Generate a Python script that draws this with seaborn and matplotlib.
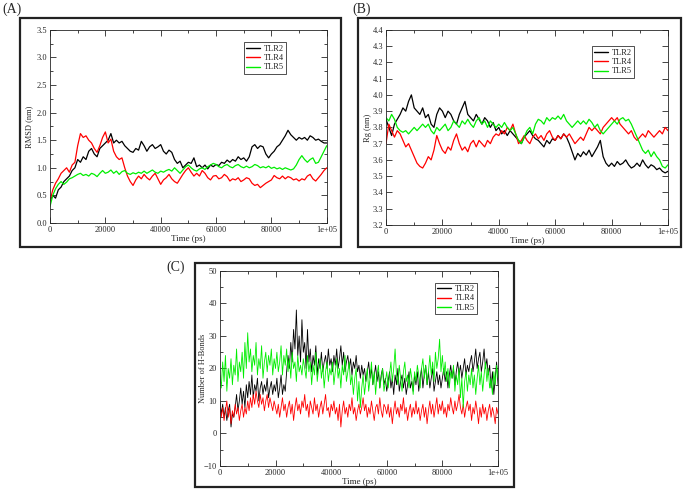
import numpy as np
import pandas as pd
import matplotlib
matplotlib.use('Agg')
import matplotlib.pyplot as plt
import seaborn as sns
from matplotlib.patches import Rectangle
from matplotlib.ticker import MultipleLocator

# time axes (ps)
time_ab = list(range(0, 100001, 1000))
time_c = list(range(0, 100001, 500))

# (A) RMSD (nm)
rmsd_tlr2 = [0.40, 0.50, 0.45, 0.60, 0.65, 0.75, 0.80, 0.85, 0.95, 1.00,
             1.15, 1.10, 1.20, 1.15, 1.30, 1.35, 1.25, 1.20, 1.35, 1.40,
             1.45, 1.50, 1.62, 1.45, 1.50, 1.45, 1.48, 1.40, 1.35, 1.30,
             1.28, 1.35, 1.32, 1.48, 1.40, 1.30, 1.38, 1.42, 1.35, 1.38,
             1.42, 1.30, 1.25, 1.32, 1.28, 1.15, 1.08, 1.12, 1.00, 1.05,
             1.10, 1.08, 1.18, 1.02, 1.05, 1.00, 1.05, 0.98, 1.05, 1.02,
             1.06, 1.04, 1.10, 1.08, 1.14, 1.10, 1.15, 1.12, 1.20, 1.15,
             1.18, 1.12, 1.20, 1.38, 1.42, 1.35, 1.40, 1.38, 1.25, 1.18,
             1.25, 1.30, 1.38, 1.42, 1.50, 1.58, 1.68, 1.60, 1.55, 1.50,
             1.55, 1.52, 1.55, 1.50, 1.58, 1.55, 1.50, 1.52, 1.48, 1.45, 1.45]
rmsd_tlr4 = [0.40, 0.60, 0.72, 0.80, 0.90, 0.95, 1.00, 0.92, 1.05, 1.10,
             1.40, 1.62, 1.55, 1.58, 1.50, 1.45, 1.35, 1.28, 1.40, 1.55,
             1.65, 1.45, 1.52, 1.30, 1.20, 1.15, 1.18, 1.00, 0.85, 0.75,
             0.68, 0.78, 0.85, 0.80, 0.88, 0.82, 0.78, 0.85, 0.90, 0.80,
             0.70, 0.78, 0.82, 0.88, 0.80, 0.75, 0.72, 0.80, 0.88, 0.95,
             1.00, 0.92, 0.85, 0.90, 0.85, 0.95, 0.90, 0.82, 0.78, 0.85,
             0.86, 0.80, 0.82, 0.88, 0.84, 0.76, 0.80, 0.78, 0.82, 0.75,
             0.78, 0.82, 0.80, 0.72, 0.68, 0.70, 0.64, 0.68, 0.72, 0.75,
             0.78, 0.86, 0.82, 0.80, 0.85, 0.80, 0.84, 0.82, 0.78, 0.80,
             0.76, 0.80, 0.78, 0.85, 0.88, 0.80, 0.76, 0.82, 0.88, 0.95, 1.00]
rmsd_tlr5 = [0.30, 0.50, 0.62, 0.70, 0.75, 0.70, 0.74, 0.80, 0.82, 0.85,
             0.88, 0.90, 0.86, 0.88, 0.85, 0.90, 0.88, 0.84, 0.90, 0.95,
             0.90, 0.92, 0.96, 0.90, 0.94, 0.88, 0.93, 0.95, 0.90, 0.88,
             0.91, 0.89, 0.92, 0.90, 0.94, 0.90, 0.93, 0.96, 0.92, 0.90,
             0.94, 0.92, 0.95, 0.97, 0.94, 1.00, 0.95, 0.90, 0.96, 1.02,
             1.05, 1.00, 0.96, 0.94, 0.98, 1.00, 0.97, 1.02, 1.05, 1.08,
             1.06, 1.02, 1.00, 1.04, 1.06, 1.02, 1.00, 1.04, 1.06, 1.02,
             1.00, 1.03, 1.00, 1.02, 1.06, 1.04, 1.00, 1.02, 1.00, 1.03,
             0.99, 1.01, 0.98, 1.00, 0.97, 1.00, 0.98, 0.96, 0.98, 1.05,
             1.15, 1.22, 1.15, 1.10, 1.15, 1.18, 1.08, 1.10, 1.20, 1.30, 1.40]

# (B) Rg (nm)
rg_tlr2 = [3.85, 3.80, 3.75, 3.82, 3.85, 3.88, 3.92, 3.90, 3.96, 4.00,
           3.92, 3.90, 3.88, 3.92, 3.86, 3.88, 3.82, 3.80, 3.88, 3.92,
           3.90, 3.86, 3.90, 3.88, 3.84, 3.82, 3.88, 3.92, 3.96, 3.88,
           3.86, 3.84, 3.88, 3.85, 3.82, 3.86, 3.84, 3.80, 3.83, 3.78,
           3.80, 3.76, 3.78, 3.75, 3.78, 3.76, 3.74, 3.72, 3.70, 3.74,
           3.76, 3.78, 3.75, 3.73, 3.72, 3.70, 3.68, 3.72, 3.70, 3.73,
           3.72, 3.75, 3.73, 3.76, 3.74, 3.70, 3.65, 3.60, 3.64, 3.62,
           3.65, 3.63, 3.66, 3.62, 3.65, 3.68, 3.72, 3.62, 3.58, 3.56,
           3.58, 3.56, 3.59, 3.57, 3.58, 3.60, 3.57, 3.55, 3.56, 3.58,
           3.56, 3.60, 3.57, 3.55, 3.57, 3.56, 3.54, 3.55, 3.53, 3.52, 3.53]
rg_tlr4 = [3.70, 3.82, 3.78, 3.74, 3.78, 3.76, 3.72, 3.68, 3.70, 3.66,
           3.62, 3.58, 3.56, 3.55, 3.58, 3.62, 3.60, 3.66, 3.75, 3.70,
           3.66, 3.64, 3.68, 3.66, 3.72, 3.76, 3.70, 3.66, 3.68, 3.65,
           3.70, 3.72, 3.68, 3.72, 3.70, 3.68, 3.72, 3.70, 3.74, 3.76,
           3.75, 3.78, 3.76, 3.80, 3.78, 3.82, 3.76, 3.70, 3.72, 3.75,
           3.72, 3.70, 3.74, 3.76, 3.73, 3.75, 3.72, 3.76, 3.78, 3.74,
           3.72, 3.75, 3.73, 3.76, 3.74, 3.76, 3.73, 3.70, 3.72, 3.74,
           3.72, 3.76, 3.80, 3.78, 3.80, 3.78, 3.76, 3.80, 3.82, 3.84,
           3.86, 3.84, 3.86, 3.82, 3.80, 3.78, 3.76, 3.78, 3.74, 3.72,
           3.74, 3.76, 3.74, 3.78, 3.76, 3.74, 3.76, 3.78, 3.76, 3.80, 3.78]
rg_tlr5 = [3.86, 3.84, 3.88, 3.85, 3.80, 3.78, 3.77, 3.78, 3.76, 3.78,
           3.80, 3.78, 3.80, 3.82, 3.80, 3.82, 3.78, 3.76, 3.80, 3.78,
           3.80, 3.82, 3.78, 3.80, 3.84, 3.82, 3.80, 3.84, 3.82, 3.85,
           3.82, 3.80, 3.84, 3.86, 3.82, 3.84, 3.80, 3.84, 3.82, 3.80,
           3.82, 3.80, 3.83, 3.80, 3.78, 3.80, 3.76, 3.72, 3.70, 3.74,
           3.78, 3.80, 3.76, 3.82, 3.85, 3.84, 3.82, 3.86, 3.84, 3.86,
           3.85, 3.87, 3.85, 3.88, 3.84, 3.82, 3.80, 3.82, 3.84, 3.82,
           3.84, 3.82, 3.85, 3.83, 3.80, 3.82, 3.78, 3.76, 3.78, 3.80,
           3.82, 3.84, 3.82, 3.85, 3.86, 3.84, 3.85, 3.82, 3.78, 3.74,
           3.70, 3.66, 3.64, 3.66, 3.62, 3.65, 3.62, 3.60, 3.56, 3.55, 3.57]

# (C) number of H-bonds
hb_tlr2 = [10, 6, 9, 5, 8, 4, 7, 9, 2, 6, 5, 8, 12, 7, 10, 14, 9, 13, 8, 15, 11,
           16, 12, 18, 11, 15, 13, 17, 10, 14, 16, 12, 15, 13, 17, 11, 14, 16, 12, 15, 13,
           17, 11, 14, 18, 12, 15, 13, 19, 24, 20, 28, 22, 32, 26, 38, 24, 30, 22, 35, 25,
           28, 20, 32, 22, 26, 19, 24, 21, 27, 18, 23, 20, 25, 19, 22, 24, 20, 26, 21, 23,
           19, 24, 21, 26, 20, 23, 27, 21, 25, 19, 22, 24, 20, 23, 18, 22, 20, 24, 19, 21,
           17, 21, 18, 20, 16, 19, 22, 17, 20, 15, 18, 21, 16, 19, 14, 18, 20, 15, 17, 13,
           16, 19, 14, 17, 12, 18, 15, 20, 13, 16, 18, 14, 17, 12, 15, 19, 14, 16, 13, 18,
           15, 19, 13, 17, 20, 14, 18, 21, 15, 19, 14, 17, 20, 13, 16, 19, 15, 18, 14, 17,
           20, 16, 19, 14, 18, 21, 17, 20, 15, 19, 22, 18, 21, 17, 20, 23, 18, 21, 19, 22,
           24, 19, 22, 26, 20, 23, 25, 19, 22, 26, 20, 23, 18, 21, 14, 19, 12, 17, 22, 15]
hb_tlr4 = [9, 5, 8, 4, 7, 10, 5, 8, 3, 7, 5, 9, 6, 8, 4, 7, 9, 5, 8, 6, 10,
           7, 11, 8, 12, 9, 13, 10, 8, 12, 9, 11, 7, 10, 12, 8, 11, 9, 7, 10, 8,
           6, 9, 5, 8, 11, 7, 9, 5, 8, 10, 6, 9, 4, 8, 11, 7, 9, 6, 10, 8,
           12, 7, 9, 5, 10, 8, 6, 11, 7, 9, 5, 8, 10, 6, 9, 12, 7, 8, 5, 9,
           7, 10, 6, 8, 4, 9, 2, 7, 10, 6, 8, 5, 9, 7, 11, 6, 8, 4, 7, 9,
           6, 8, 11, 7, 9, 5, 8, 6, 10, 7, 4, 8, 9, 6, 11, 7, 5, 9, 8, 6,
           9, 5, 8, 3, 7, 10, 6, 8, 5, 9, 7, 11, 6, 8, 4, 7, 9, 5, 8, 6,
           10, 6, 8, 4, 7, 9, 5, 8, 3, 7, 10, 6, 9, 5, 8, 11, 6, 9, 7, 10,
           6, 8, 5, 9, 7, 11, 8, 6, 10, 7, 9, 12, 8, 6, 9, 5, 8, 10, 7, 9,
           4, 8, 6, 10, 7, 3, 8, 5, 9, 6, 8, 4, 7, 9, 5, 8, 6, 3, 8, 6]
hb_tlr5 = [18, 14, 22, 16, 24, 13, 20, 17, 23, 15, 21, 18, 26, 16, 22, 19, 25, 17, 28, 20, 31,
           22, 26, 19, 24, 21, 28, 18, 23, 20, 27, 17, 22, 25, 19, 24, 21, 26, 18, 23, 20,
           25, 19, 22, 27, 18, 24, 21, 26, 19, 23, 17, 25, 20, 22, 16, 24, 19, 21, 18, 23,
           20, 17, 24, 19, 22, 15, 21, 18, 25, 16, 20, 23, 17, 21, 14, 19, 22, 16, 20, 18,
           22, 15, 19, 23, 17, 20, 14, 21, 18, 24, 16, 19, 22, 15, 18, 12, 17, 20, 10, 16,
           8, 14, 18, 12, 16, 20, 13, 17, 22, 15, 19, 12, 18, 21, 14, 17, 20, 13, 16, 19,
           14, 18, 22, 16, 20, 26, 18, 15, 21, 17, 13, 19, 22, 16, 18, 14, 20, 17, 12, 19,
           16, 21, 18, 14, 20, 23, 17, 21, 15, 19, 24, 18, 22, 16, 25, 20, 23, 29, 19, 24,
           18, 22, 16, 20, 14, 19, 17, 21, 13, 18, 15, 20, 11, 17, 8, 16, 19, 13, 18, 15,
           20, 14, 18, 12, 17, 21, 15, 19, 13, 18, 22, 16, 20, 14, 17, 12, 19, 15, 21, 17]

xtick_vals = [0, 20000, 40000, 60000, 80000, 100000]
xtick_labels = ['0', '20000', '40000', '60000', '80000', '1e+05']
colors = {'TLR2': 'black', 'TLR4': 'red', 'TLR5': '#00ee00'}

sns.set_style('ticks')
plt.rcParams['font.family'] = ['Liberation Serif', 'DejaVu Serif']


def long_df(t, s2, s4, s5):
    parts = []
    for name, vals in [('TLR2', s2), ('TLR4', s4), ('TLR5', s5)]:
        parts.append(pd.DataFrame({'Time': t, 'Value': vals, 'Receptor': name}))
    return pd.concat(parts, ignore_index=True)


def style_axis(ax, ylim, ymajor, yminor, ylabel, ylabel_x, leg_anchor):
    ax.set_xlim(0, 100000)
    ax.set_ylim(*ylim)
    ax.set_xticks(xtick_vals)
    ax.set_xticklabels(xtick_labels)
    ax.xaxis.set_minor_locator(MultipleLocator(10000))
    ax.yaxis.set_major_locator(MultipleLocator(ymajor))
    if yminor:
        ax.yaxis.set_minor_locator(MultipleLocator(yminor))
    ax.tick_params(which='both', direction='in', top=True, right=True,
                   labelsize=6, pad=2, width=0.6)
    ax.tick_params(which='major', length=4)
    ax.tick_params(which='minor', length=2)
    for sp in ax.spines.values():
        sp.set_linewidth(0.6)
    ax.set_xlabel('Time (ps)', fontsize=6.5, labelpad=1)
    ax.set_ylabel(ylabel, fontsize=6)
    ax.yaxis.set_label_coords(ylabel_x, 0.5)
    leg = ax.legend(loc='upper left', bbox_to_anchor=leg_anchor, fontsize=6,
                    frameon=True, fancybox=False, edgecolor='black',
                    handlelength=1.6, handletextpad=0.5, borderpad=0.3,
                    labelspacing=0.15, borderaxespad=0)
    leg.get_frame().set_linewidth(0.6)
    for line in leg.get_lines():
        line.set_linewidth(1.0)


fig = plt.figure(figsize=(6.85, 4.9), dpi=100)

# panel A
axA = fig.add_axes([0.073, 0.545, 0.404, 0.394])
dfA = long_df(time_ab, rmsd_tlr2, rmsd_tlr4, rmsd_tlr5)
sns.lineplot(data=dfA, x='Time', y='Value', hue='Receptor', palette=colors,
             linewidth=0.9, ax=axA, estimator=None)
style_axis(axA, (0, 3.5), 0.5, 0.25, 'RMSD (nm)', -0.06, (0.70, 0.935))

# panel B
axB = fig.add_axes([0.5635, 0.541, 0.4117, 0.398])
dfB = long_df(time_ab, rg_tlr2, rg_tlr4, rg_tlr5)
sns.lineplot(data=dfB, x='Time', y='Value', hue='Receptor', palette=colors,
             linewidth=0.9, ax=axB, estimator=None)
style_axis(axB, (3.2, 4.4), 0.1, None, 'Rg (nm)', -0.05, (0.73, 0.915))

# panel C
axC = fig.add_axes([0.321, 0.049, 0.406, 0.398])
dfC = long_df(time_c, hb_tlr2, hb_tlr4, hb_tlr5)
sns.lineplot(data=dfC, x='Time', y='Value', hue='Receptor', palette=colors,
             linewidth=0.6, ax=axC, estimator=None)
style_axis(axC, (-10, 50), 10, 5, 'Number of H-Bonds', -0.046, (0.773, 0.94))

# outer frames around each panel (pixel boxes)
W, H = 685, 490
for x0, y0, x1, y1 in [(20, 18, 341, 247), (358, 18, 681, 247), (195, 263, 514, 487)]:
    fig.patches.append(Rectangle((x0 / W, 1 - y1 / H), (x1 - x0) / W, (y1 - y0) / H,
                                 transform=fig.transFigure, fill=False,
                                 edgecolor='#222222', linewidth=1.6))

fig.text(2 / W, 1 - 9 / H, '(A)', fontsize=10, va='center', ha='left')
fig.text(352 / W, 1 - 9 / H, '(B)', fontsize=10, va='center', ha='left')
fig.text(166 / W, 1 - 267 / H, '(C)', fontsize=10, va='center', ha='left')

fig.savefig('out.png', dpi=100)
